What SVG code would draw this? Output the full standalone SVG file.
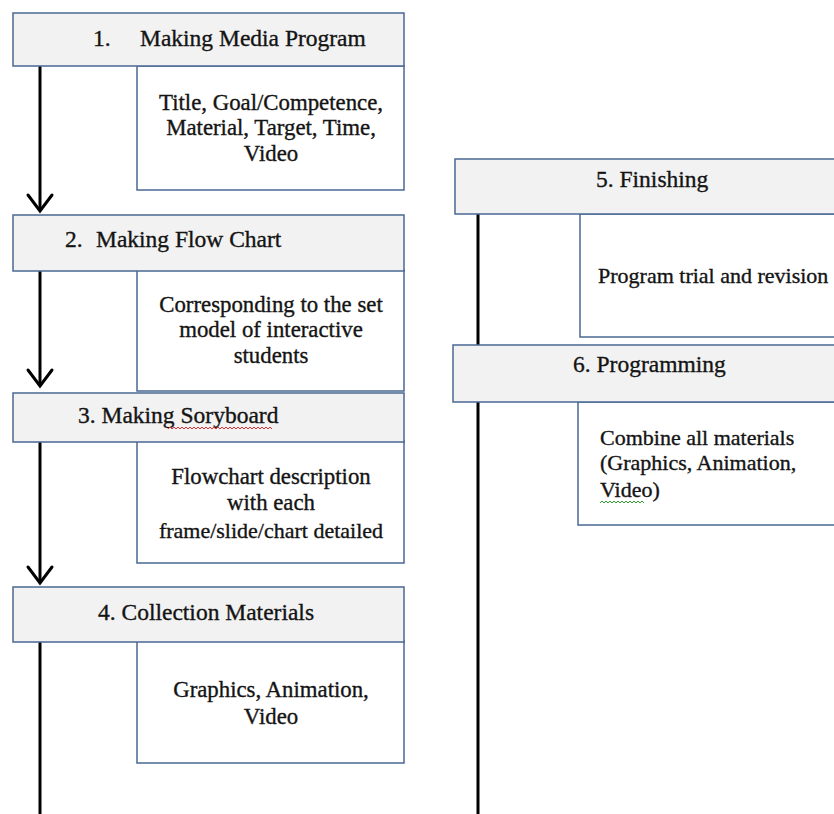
<svg xmlns="http://www.w3.org/2000/svg" width="834" height="814" viewBox="0 0 834 814">
<style>
.hdr{fill:#f2f2f2;stroke:#4a6894;stroke-width:1.5}
.sub{fill:#ffffff;stroke:#4a6894;stroke-width:1.5}
.ht{font-family:'Liberation Serif',Tinos,'Times New Roman',serif;font-size:23.5px;fill:#141414;stroke:#141414;stroke-width:0.35}
.st{font-family:'Liberation Serif',Tinos,'Times New Roman',serif;font-size:22.8px;fill:#141414;stroke:#141414;stroke-width:0.35}
.sr{font-size:22px}
.c{text-anchor:middle}
.ln{stroke:#000;stroke-width:3;fill:none}
.ah{stroke:#000;stroke-width:3;fill:none;stroke-linecap:round;stroke-linejoin:miter}
.wavy{fill:none;stroke-width:1}
</style>
<rect width="834" height="814" fill="#ffffff"/>
<g id="connectors">
<line class="ln" x1="40" y1="66" x2="40" y2="211"/>
<polyline class="ah" points="28,195 40,211 52,195"/>
<line class="ln" x1="40" y1="271" x2="40" y2="386"/>
<polyline class="ah" points="28,370 40,386 52,370"/>
<line class="ln" x1="40" y1="442" x2="40" y2="583"/>
<polyline class="ah" points="28,567 40,583 52,567"/>
<line class="ln" x1="40" y1="642" x2="40" y2="814"/>
<line class="ln" x1="478" y1="214" x2="478" y2="814"/>
</g>
<g id="node1">
<rect class="sub" x="137" y="66" width="267" height="124"/>
<rect class="hdr" x="13" y="13" width="391" height="53"/>
<text class="ht" y="46"><tspan x="93">1.</tspan><tspan x="140">Making Media Program</tspan></text>
<text class="st c" x="271" y="110">Title, Goal/Competence,</text>
<text class="st c" x="271" y="135">Material, Target, Time,</text>
<text class="st c" x="271" y="161">Video</text>
</g>
<g id="node2">
<rect class="sub" x="137" y="270" width="267" height="121"/>
<rect class="hdr" x="13" y="215" width="391" height="56"/>
<text class="ht" y="247"><tspan x="65">2.</tspan><tspan x="96">Making Flow Chart</tspan></text>
<text class="st c" x="271" y="312">Corresponding to the set</text>
<text class="st c" x="271" y="337">model of interactive</text>
<text class="st c" x="271" y="363">students</text>
</g>
<g id="node3">
<rect class="sub" x="137" y="441" width="267" height="122"/>
<rect class="hdr" x="13" y="393" width="391" height="49"/>
<text class="ht" x="78" y="423">3. Making Soryboard</text>
<path class="wavy" stroke="#e03030" d="M168,429 l2,-2 l2,2 l2,-2 l2,2 l2,-2 l2,2 l2,-2 l2,2 l2,-2 l2,2 l2,-2 l2,2 l2,-2 l2,2 l2,-2 l2,2 l2,-2 l2,2 l2,-2 l2,2 l2,-2 l2,2 l2,-2 l2,2 l2,-2 l2,2 l2,-2 l2,2 l2,-2 l2,2 l2,-2 l2,2 l2,-2 l2,2 l2,-2 l2,2 l2,-2 l2,2 l2,-2 l2,2 l2,-2 l2,2 l2,-2 l2,2 l2,-2 l2,2 l2,-2 l2,2 l2,-2 l2,2 l2,-2 l2,2"/>
<text class="st c" x="271" y="484">Flowchart description</text>
<text class="st c" x="271" y="510">with each</text>
<text class="st c sr" x="271" y="538">frame/slide/chart detailed</text>
</g>
<g id="node4">
<rect class="sub" x="137" y="641" width="267" height="122"/>
<rect class="hdr" x="13" y="587" width="391" height="55"/>
<text class="ht" x="98" y="620">4. Collection Materials</text>
<text class="st c" x="271" y="697">Graphics, Animation,</text>
<text class="st c" x="271" y="724">Video</text>
</g>
<g id="node5">
<rect class="sub" x="580" y="214" width="270" height="123"/>
<rect class="hdr" x="455" y="159" width="395" height="55"/>
<text class="ht" x="596" y="187">5. Finishing</text>
<text class="st sr" x="598" y="283">Program trial and revision</text>
</g>
<g id="node6">
<rect class="sub" x="578" y="402" width="272" height="123"/>
<rect class="hdr" x="453" y="345" width="397" height="57"/>
<text class="ht" x="573" y="372">6. Programming</text>
<text class="st sr" x="600" y="445">Combine all materials</text>
<text class="st sr" x="600" y="470">(Graphics, Animation,</text>
<text class="st sr" x="600" y="497">Video)</text>
<path class="wavy" stroke="#30a030" d="M600,503 l2,-2 l2,2 l2,-2 l2,2 l2,-2 l2,2 l2,-2 l2,2 l2,-2 l2,2 l2,-2 l2,2 l2,-2 l2,2 l2,-2 l2,2 l2,-2 l2,2 l2,-2 l2,2 l2,-2 l2,2"/>
</g>
</svg>
